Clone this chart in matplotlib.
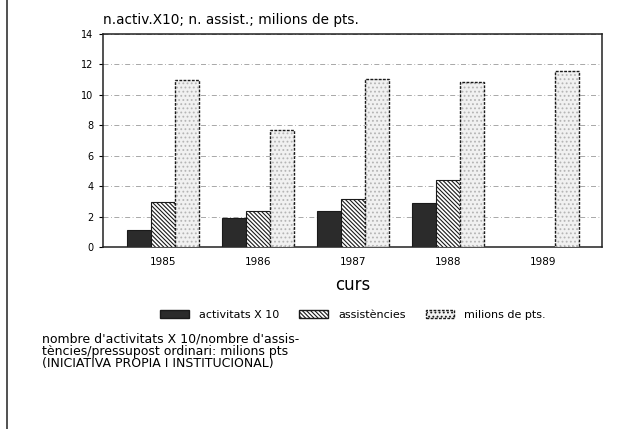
import matplotlib
matplotlib.use("Agg")
import matplotlib.pyplot as plt
from matplotlib.patches import Patch
from matplotlib.lines import Line2D
import numpy as np

plt.rcParams['font.family'] = ['DejaVu Sans']
plt.rcParams['hatch.linewidth'] = 0.8

# data
years = ['1985', '1986', '1987', '1988', '1989']
activitats = [1.13, 1.92, 2.36, 2.88, np.nan]
assistencies = [2.98, 2.37, 3.15, 4.40, np.nan]
milions = [11.0, 7.7, 11.04, 10.86, 11.58]
yticks = [0, 2, 4, 6, 8, 10, 12, 14]

fig = plt.figure(figsize=(6.44, 4.29), dpi=100)
ax = fig.add_axes([103/644, 1 - 247/429, 499/644, 213/429])

x = np.arange(len(years))
w = 0.253
hatch_as = '\\' * 8

ax.bar(x - w, activitats, w, color='#2b2b2b', edgecolor='#1a1a1a', linewidth=0.8, zorder=3)
ax.bar(x, assistencies, w, color='white', edgecolor='#1a1a1a', hatch=hatch_as,
       linewidth=0.8, zorder=3)
# stippled bar: grey dots first, then black dotted outline
ax.bar(x + w, milions, w, color='#f1f1f1', edgecolor='#b5b5b5', hatch='....',
       linewidth=0, zorder=3)
ax.bar(x + w, milions, w, fill=False, edgecolor='#1a1a1a', linewidth=1.0,
       linestyle=(0, (2, 1)), zorder=4)

ax.set_xlim(-0.63, 4.62)
ax.set_ylim(0, 14)
ax.set_yticks(yticks)
ax.set_xticks(x)
ax.set_xticklabels(years)
ax.tick_params(axis='x', length=0, pad=7, labelsize=7.5)
ax.tick_params(axis='y', length=3, labelsize=7, pad=4)
ax.yaxis.grid(True, color='#9a9a9a', linestyle=(0, (6, 3, 1, 3)), linewidth=0.6, zorder=0)
ax.set_axisbelow(True)
for s in ax.spines.values():
    s.set_linewidth(1.1)
    s.set_color('#222222')

ax.set_xlabel('curs', fontsize=12, labelpad=7)
fig.text(103/644, 1 - 20/429, 'n.activ.X10; n. assist.; milions de pts.',
         fontsize=9.8, va='center', ha='left')

handles = [
    Patch(facecolor='#2b2b2b', edgecolor='#1a1a1a'),
    Patch(facecolor='white', edgecolor='#1a1a1a', hatch=hatch_as),
    Patch(facecolor='#f1f1f1', edgecolor='#1a1a1a', hatch='....', linestyle=(0, (2, 1))),
]
labels = ['activitats X 10', 'assistències', 'milions de pts.']
fig.legend(handles, labels, loc='center', bbox_to_anchor=(353/644, 1 - 315/429),
           ncol=3, frameon=False, fontsize=8, handlelength=2.6, handleheight=0.7,
           columnspacing=1.8, handletextpad=0.9)

fig.text(42/644, 1 - 351/429,
         "nombre d'activitats X 10/nombre d'assis-\n"
         "tències/pressupost ordinari: milions pts\n"
         "(INICIATIVA PROPIA I INSTITUCIONAL)",
         fontsize=9, va='center', ha='left', linespacing=0.95)

fig.add_artist(Line2D([7/644, 7/644], [0, 1], transform=fig.transFigure,
                      color='#333333', linewidth=1.2))

fig.savefig('out.png', dpi=100)
